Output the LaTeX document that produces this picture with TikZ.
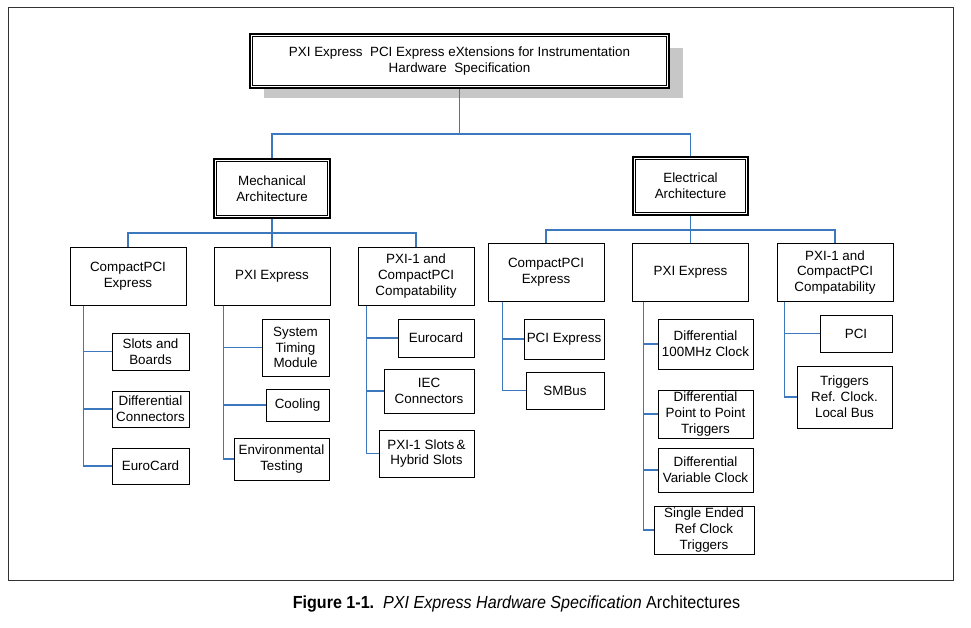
\documentclass[tikz,border=0pt]{standalone}
\usepackage{fontspec}
\setmainfont{Liberation Sans}
\newfontfamily\capfont[FakeStretch=0.92]{Liberation Sans}
\definecolor{linkblue}{RGB}{60,120,190}
\newcommand{\boxfont}{\fontsize{13.4}{15.8}\selectfont}

\begin{document}
\begin{tikzpicture}[x=1pt, y=-1pt,
    box/.style={draw, line width=1pt, fill=white, align=center, inner sep=0pt, font=\boxfont},
    link/.style={draw=linkblue, line width=1.2pt}]
    \useasboundingbox (0,0) rectangle (971,627);
    % Frame
    \draw[line width=0.8pt, black!80] (8,7) rectangle (953,580);
    % Top box with shadow
    \fill[black!22] (264,48) rectangle (683,98);
    \node[box, line width=1.6pt, minimum width=419pt, minimum height=54pt] (spec) at (459.5,61)
        {PXI Express\ \ PCI Express eXtensions for Instrumentation\\Hardware\ \ Specification};
    % Architectures
    \node[box, line width=1.6pt, minimum width=116pt, minimum height=59pt] (mech) at (272,188.5) {Mechanical\\Architecture};
    \node[box, line width=1.6pt, minimum width=115pt, minimum height=58pt] (elec) at (690.5,186) {Electrical\\Architecture};
    \foreach \n in {spec, mech, elec} {
        \draw[line width=0.7pt] ([shift={(3,3)}]\n.north west) rectangle ([shift={(-3,-3)}]\n.south east);
    }
    % Second level
    \foreach \n/\x/\y/\t in {cpciM/128/276/{CompactPCI\\Express}, pxiM/272/276/{PXI Express},
        compM/416/276/{PXI-1 and\\CompactPCI\\Compatability}, cpciE/546/272.5/{CompactPCI\\Express},
        pxiE/690.5/272.5/{PXI Express}, compE/835/272.5/{PXI-1 and\\CompactPCI\\Compatability}} {
        \node[box, minimum width=116pt, minimum height=58pt] (\n) at (\x,\y) {\t};
    }
    % Leaves
    \foreach \n/\x/\y/\w/\h/\t in {slots/150.5/351.5/77/37/{Slots and\\Boards},
        diffcon/150.5/409/77/36/{Differential\\Connectors}, eurocardM/150.5/466/77/36/{EuroCard},
        stm/295.5/347.5/67/57/{System\\Timing\\Module}, cooling/297.5/405/63/32/{Cooling},
        envtest/281.5/459/95/42/{Environmental\\Testing},
        eurocard/436/338/76/38/{Eurocard}, iec/429/391/90/44/{IEC\\Connectors},
        hybrid/426.5/453.5/95/47/{PXI-1 Slots\,\&\\Hybrid Slots},
        pcie/564/339/80/40/{PCI Express}, smbus/565/390.5/78/37/{SMBus},
        clk/705.5/344/95/50/{Differential\\100MHz Clock}, ptp/705.5/414/95/48/{Differential\\Point to Point\\Triggers},
        varclk/705.5/470/95/44/{Differential\\Variable Clock}, single/704/530/100/48/{Single Ended\\Ref Clock\\Triggers},
        pci/856/333.5/72/37/{PCI}, trig/844.5/397/95/62/{Triggers\\Ref. Clock.\\Local Bus}} {
        \node[box, minimum width=\w pt, minimum height=\h pt] (\n) at (\x,\y) {\t};
    }
    % Connectors
    \coordinate (busT) at (459.5,134);
    \coordinate (busM) at (272,233);
    \coordinate (busE) at (690.5,230);
    \draw[link] (spec.south) -- (busT) -| (mech.north);
    \draw[link] (busT) -| (elec.north);
    \draw[link] (mech.south) -- (busM) -| (cpciM.north);
    \draw[link] (busM) -| (compM.north);
    \draw[link] (busM) -- (pxiM.north);
    \draw[link] (elec.south) -- (busE) -| (cpciE.north);
    \draw[link] (busE) -| (compE.north);
    \draw[link] (busE) -- (pxiE.north);
    \foreach \p/\dx/\l in {cpciM/14/slots, cpciM/14/diffcon, cpciM/14/eurocardM,
        pxiM/10/stm, pxiM/10/cooling, pxiM/10/envtest,
        compM/9/eurocard, compM/9/iec, compM/9/hybrid,
        cpciE/15/pcie, cpciE/15/smbus,
        pxiE/11.5/clk, pxiE/11.5/ptp, pxiE/11.5/varclk, pxiE/11.5/single,
        compE/8/pci, compE/8/trig} {
        \draw[link] ([xshift=\dx pt]\p.south west) |- (\l.west);
    }
    % Caption
    \node[font=\capfont\fontsize{17.5}{20}\selectfont] (caption) at (516.5,604)
        {\textbf{Figure 1-1.}\ \ \textit{PXI Express Hardware Specification} Architectures};
\end{tikzpicture}
\end{document}
